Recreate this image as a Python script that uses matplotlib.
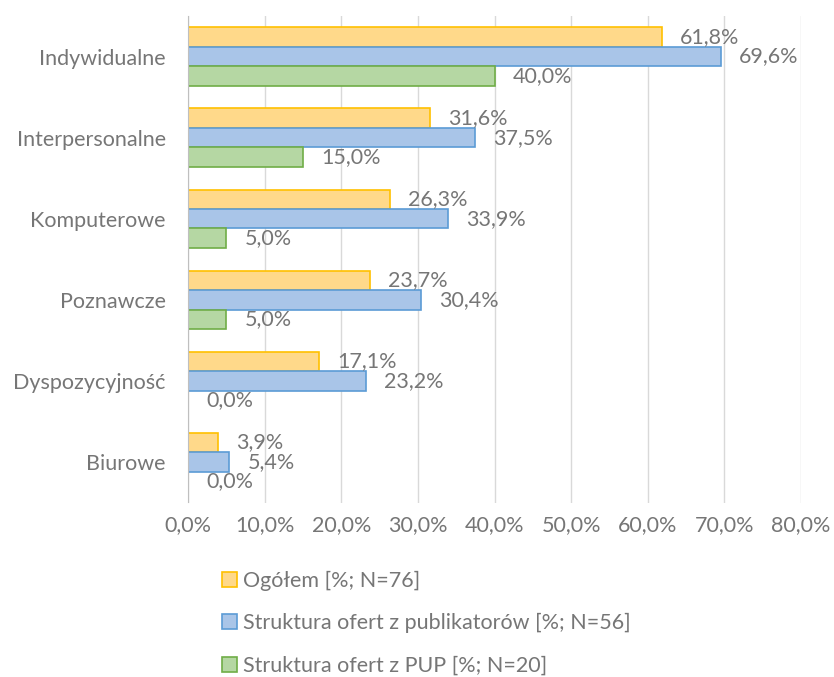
import numpy as np
import matplotlib.pyplot as plt
from matplotlib.patches import Patch

# --- Data ---
categories = ["Indywidualne", "Interpersonalne", "Komputerowe", "Poznawcze",
              "Dyspozycyjność", "Biurowe"]
ogolem = [61.8, 31.6, 26.3, 23.7, 17.1, 3.9]
publikatory = [69.6, 37.5, 33.9, 30.4, 23.2, 5.4]
pup = [40.0, 15.0, 5.0, 5.0, 0.0, 0.0]
series_labels = ["Ogółem [%; N=76]",
                 "Struktura ofert z publikatorów [%; N=56]",
                 "Struktura ofert z PUP [%; N=20]"]
xticks = [0, 10, 20, 30, 40, 50, 60, 70, 80]

plt.rcParams["font.family"] = ["Lato", "DejaVu Sans"]
text_color = "#767676"
fs = 15.5

fills = ["#FFD98A", "#A9C5E8", "#B5D7A3"]
edges = ["#FFC000", "#5B9BD5", "#70AD47"]

fig = plt.figure(figsize=(8.34, 6.77), dpi=100)
ax = fig.add_axes([188 / 834, 1 - 502.5 / 677, (801 - 188) / 834, (502.5 - 16) / 677])

y = np.arange(len(categories))
h = 0.24
offsets = [-h, 0, h]
for vals, off, fc, ec in zip([ogolem, publikatory, pup], offsets, fills, edges):
    ax.barh(y + off, vals, height=h, color=fc, edgecolor=ec, linewidth=1.2, zorder=3)
    for yi, v in zip(y, vals):
        ax.annotate(f"{v:.1f}%".replace(".", ","), (v, yi + off),
                    xytext=(13, 0), textcoords="offset points",
                    va="center", ha="left", fontsize=fs, color=text_color, zorder=4)

ax.set_ylim(len(categories) - 0.5, -0.5)
ax.set_xlim(0, 80)
ax.set_yticks(y)
ax.set_yticklabels(categories)
ax.set_xticks(xticks)
ax.set_xticklabels([f"{t:.1f}%".replace(".", ",") for t in xticks])
ax.tick_params(axis="both", length=0, labelsize=fs, colors=text_color)
ax.tick_params(axis="x", pad=9)
ax.tick_params(axis="y", pad=16)
ax.grid(axis="x", color="#D9D9D9", linewidth=1, zorder=0)
for s in ["top", "right", "bottom"]:
    ax.spines[s].set_visible(False)
ax.spines["left"].set_color("#BFBFBF")
ax.spines["left"].set_zorder(5)

handles = [Patch(facecolor=fc, edgecolor=ec, linewidth=1.2) for fc, ec in zip(fills, edges)]
fig.legend(handles, series_labels, loc="upper left", bbox_to_anchor=(213 / 834, 1 - 562 / 677),
           frameon=False, fontsize=fs, labelcolor=text_color, labelspacing=1.05,
           handlelength=0.7, handleheight=0.7, handletextpad=0.3, borderaxespad=0)

fig.savefig("out.png", dpi=100)
